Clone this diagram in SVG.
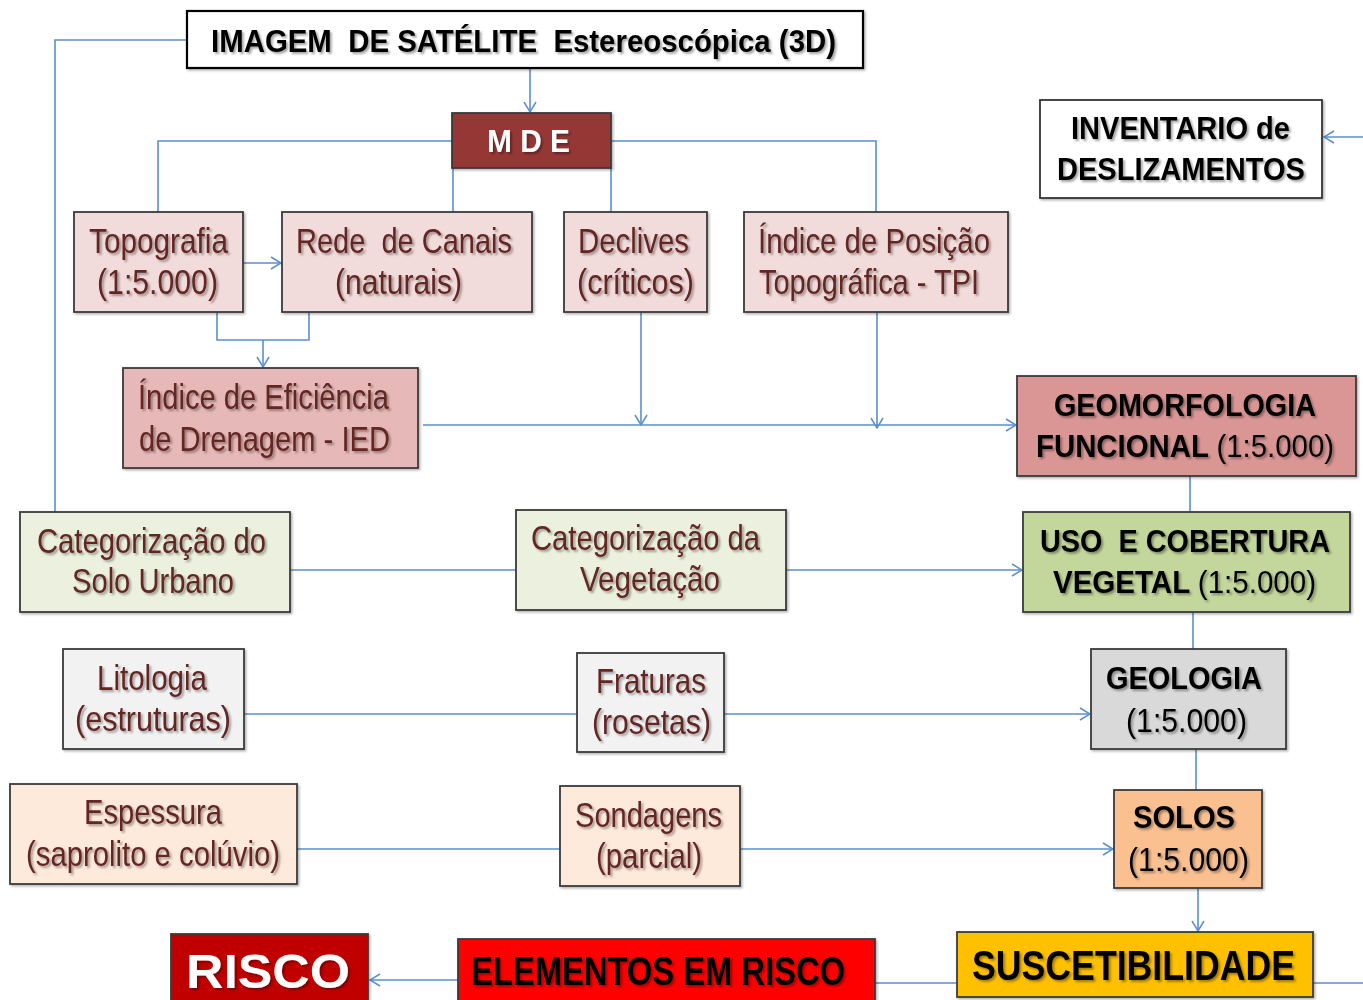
<svg xmlns="http://www.w3.org/2000/svg" width="1363" height="1000" viewBox="0 0 1363 1000" xml:space="preserve">
<defs>
<filter id="ts" x="-5%" y="-20%" width="115%" height="150%">
<feDropShadow dx="2" dy="2" stdDeviation="1.2" flood-color="#000" flood-opacity="0.35"/>
</filter>
<filter id="bs" x="-5%" y="-5%" width="110%" height="115%">
<feDropShadow dx="1.5" dy="1.5" stdDeviation="1" flood-color="#000" flood-opacity="0.3"/>
</filter>
<marker id="ar" viewBox="0 0 12 14" refX="11" refY="7" markerWidth="12" markerHeight="14" markerUnits="userSpaceOnUse" orient="auto">
<path d="M1,1 L11,7 L1,13" fill="none" stroke="#5b8fd0" stroke-width="1.5"/>
</marker>
</defs>
<style>
text{white-space:pre}
.box{stroke:#3a3a3a;stroke-width:1.8;filter:url(#bs)}
.t{font-family:"Liberation Sans Narrow","Liberation Sans",Arial,sans-serif;font-size:35px;fill:#632523;filter:url(#ts)}
.b{font-family:"Liberation Sans Narrow","Liberation Sans",Arial,sans-serif;font-size:31px;font-weight:bold;fill:#000;filter:url(#ts)}
.r{font-weight:normal}
.c{fill:none;stroke:#5b8fd0;stroke-width:1.6}
</style>
<rect width="1363" height="1000" fill="#fff"/>
<g id="connectors">
<path class="c" d="M187,40 H55 V512"/>
<path class="c" d="M530,68 V112" marker-end="url(#ar)"/>
<path class="c" d="M452,141 H158 V212"/>
<path class="c" d="M611,141 H876 V212"/>
<path class="c" d="M453,168 V212"/>
<path class="c" d="M611,168 V212"/>
<path class="c" d="M243,263 H281" marker-end="url(#ar)"/>
<path class="c" d="M217,312 V340 H309 V312"/>
<path class="c" d="M263,340 V367" marker-end="url(#ar)"/>
<path class="c" d="M423,425 H1016" marker-end="url(#ar)"/>
<path class="c" d="M641,312 V425" marker-end="url(#ar)"/>
<path class="c" d="M877,312 V428" marker-end="url(#ar)"/>
<path class="c" d="M1363,137 H1324" marker-end="url(#ar)"/>
<path class="c" d="M1190,476 V512"/>
<path class="c" d="M290,570 H516"/>
<path class="c" d="M786,570 H1022" marker-end="url(#ar)"/>
<path class="c" d="M1193,612 V650"/>
<path class="c" d="M244,714 H577"/>
<path class="c" d="M724,714 H1090" marker-end="url(#ar)"/>
<path class="c" d="M1196,749 V790"/>
<path class="c" d="M297,849 H560"/>
<path class="c" d="M740,849 H1113" marker-end="url(#ar)"/>
<path class="c" d="M1198,888 V931" marker-end="url(#ar)"/>
<path class="c" d="M1313,983 H1363"/>
<path class="c" d="M875,983 H957"/>
<path class="c" d="M458,980 H370" marker-end="url(#ar)"/>
</g>
<g id="imagem">
<rect class="box" x="187" y="11" width="676" height="57" fill="#fff" style="stroke:#000;stroke-width:2.2"/>
<text class="b" x="211" y="52" textLength="625" lengthAdjust="spacingAndGlyphs">IMAGEM  DE SATÉLITE  Estereoscópica (3D)</text>
</g>
<g id="mde">
<rect class="box" x="452" y="113" width="159" height="55" fill="#953735"/>
<text class="b" x="487" y="152" textLength="83" lengthAdjust="spacingAndGlyphs" style="fill:#fff">M D E</text>
</g>
<g id="topografia">
<rect class="box" x="74" y="212" width="169" height="100" fill="#f2dcdb"/>
<text class="t" x="89" y="253" textLength="139" lengthAdjust="spacingAndGlyphs">Topografia</text>
<text class="t" x="97" y="294" textLength="121" lengthAdjust="spacingAndGlyphs">(1:5.000)</text>
</g>
<g id="rede">
<rect class="box" x="282" y="212" width="250" height="100" fill="#f2dcdb"/>
<text class="t" x="296" y="253" textLength="216" lengthAdjust="spacingAndGlyphs">Rede  de Canais</text>
<text class="t" x="335" y="294" textLength="127" lengthAdjust="spacingAndGlyphs">(naturais)</text>
</g>
<g id="declives">
<rect class="box" x="564" y="212" width="143" height="100" fill="#f2dcdb"/>
<text class="t" x="578" y="253" textLength="111" lengthAdjust="spacingAndGlyphs">Declives</text>
<text class="t" x="577" y="294" textLength="117" lengthAdjust="spacingAndGlyphs">(críticos)</text>
</g>
<g id="tpi">
<rect class="box" x="744" y="212" width="264" height="100" fill="#f2dcdb"/>
<text class="t" x="758" y="253" textLength="232" lengthAdjust="spacingAndGlyphs">Índice de Posição</text>
<text class="t" x="759" y="294" textLength="220" lengthAdjust="spacingAndGlyphs">Topográfica - TPI</text>
</g>
<g id="ied">
<rect class="box" x="123" y="368" width="295" height="100" fill="#e6b9b8"/>
<text class="t" x="138" y="409" textLength="251" lengthAdjust="spacingAndGlyphs">Índice de Eficiência</text>
<text class="t" x="139" y="451" textLength="251" lengthAdjust="spacingAndGlyphs">de Drenagem - IED</text>
</g>
<g id="inventario">
<rect class="box" x="1040" y="100" width="282" height="98" fill="#fff" style="stroke:#333"/>
<text class="b" x="1071" y="139" textLength="219" lengthAdjust="spacingAndGlyphs">INVENTARIO de</text>
<text class="b" x="1057" y="180" textLength="248" lengthAdjust="spacingAndGlyphs">DESLIZAMENTOS</text>
</g>
<g id="geomorfologia">
<rect class="box" x="1017" y="376" width="339" height="100" fill="#d99694"/>
<text class="b" x="1054" y="416" textLength="262" lengthAdjust="spacingAndGlyphs">GEOMORFOLOGIA</text>
<text class="b" x="1036" y="457" textLength="298" lengthAdjust="spacingAndGlyphs">FUNCIONAL <tspan class="r">(1:5.000)</tspan></text>
</g>
<g id="cat-solo">
<rect class="box" x="20" y="512" width="270" height="100" fill="#ebf1de"/>
<text class="t" x="37" y="553" textLength="229" lengthAdjust="spacingAndGlyphs">Categorização do</text>
<text class="t" x="72" y="593" textLength="162" lengthAdjust="spacingAndGlyphs">Solo Urbano</text>
</g>
<g id="cat-veg">
<rect class="box" x="516" y="510" width="270" height="100" fill="#ebf1de"/>
<text class="t" x="531" y="550" textLength="229" lengthAdjust="spacingAndGlyphs">Categorização da</text>
<text class="t" x="580" y="591" textLength="140" lengthAdjust="spacingAndGlyphs">Vegetação</text>
</g>
<g id="uso">
<rect class="box" x="1023" y="512" width="327" height="100" fill="#c3d69b"/>
<text class="b" x="1040" y="552" textLength="290" lengthAdjust="spacingAndGlyphs">USO  E COBERTURA</text>
<text class="b" x="1053" y="593" textLength="263" lengthAdjust="spacingAndGlyphs">VEGETAL <tspan class="r">(1:5.000)</tspan></text>
</g>
<g id="litologia">
<rect class="box" x="63" y="649" width="181" height="100" fill="#f2f2f2"/>
<text class="t" x="97" y="690" textLength="110" lengthAdjust="spacingAndGlyphs">Litologia</text>
<text class="t" x="75" y="731" textLength="156" lengthAdjust="spacingAndGlyphs">(estruturas)</text>
</g>
<g id="fraturas">
<rect class="box" x="577" y="653" width="147" height="99" fill="#f2f2f2"/>
<text class="t" x="596" y="693" textLength="110" lengthAdjust="spacingAndGlyphs">Fraturas</text>
<text class="t" x="592" y="734" textLength="119" lengthAdjust="spacingAndGlyphs">(rosetas)</text>
</g>
<g id="geologia">
<rect class="box" x="1091" y="649" width="195" height="100" fill="#d9d9d9"/>
<text class="b" x="1106" y="689" textLength="156" lengthAdjust="spacingAndGlyphs">GEOLOGIA</text>
<text class="b" x="1126" y="732" textLength="121" lengthAdjust="spacingAndGlyphs" style="font-weight:normal;font-size:34px">(1:5.000)</text>
</g>
<g id="espessura">
<rect class="box" x="10" y="784" width="287" height="100" fill="#fdeada"/>
<text class="t" x="84" y="824" textLength="138" lengthAdjust="spacingAndGlyphs">Espessura</text>
<text class="t" x="26" y="866" textLength="254" lengthAdjust="spacingAndGlyphs">(saprolito e colúvio)</text>
</g>
<g id="sondagens">
<rect class="box" x="560" y="786" width="180" height="100" fill="#fdeada"/>
<text class="t" x="575" y="827" textLength="147" lengthAdjust="spacingAndGlyphs">Sondagens</text>
<text class="t" x="596" y="868" textLength="106" lengthAdjust="spacingAndGlyphs">(parcial)</text>
</g>
<g id="solos">
<rect class="box" x="1114" y="790" width="148" height="98" fill="#fac090"/>
<text class="b" x="1133" y="828" textLength="102" lengthAdjust="spacingAndGlyphs">SOLOS</text>
<text class="b" x="1128" y="871" textLength="121" lengthAdjust="spacingAndGlyphs" style="font-weight:normal;font-size:34px">(1:5.000)</text>
</g>
<g id="suscetibilidade">
<rect class="box" x="957" y="932" width="356" height="65" fill="#ffc000"/>
<text class="b" x="972" y="980" textLength="323" lengthAdjust="spacingAndGlyphs" style="font-size:42px">SUSCETIBILIDADE</text>
</g>
<g id="elementos">
<rect class="box" x="458" y="939" width="417" height="70" fill="#ff0000"/>
<text class="b" x="471" y="985" textLength="374" lengthAdjust="spacingAndGlyphs" style="font-size:40px">ELEMENTOS EM RISCO</text>
</g>
<g id="risco">
<rect class="box" x="171" y="934" width="197" height="75" fill="#c00000"/>
<text class="b" x="186" y="988" textLength="164" lengthAdjust="spacingAndGlyphs" style="font-size:48px;fill:#fff;font-family:'Liberation Sans',Arial,sans-serif">RISCO</text>
</g>
</svg>
